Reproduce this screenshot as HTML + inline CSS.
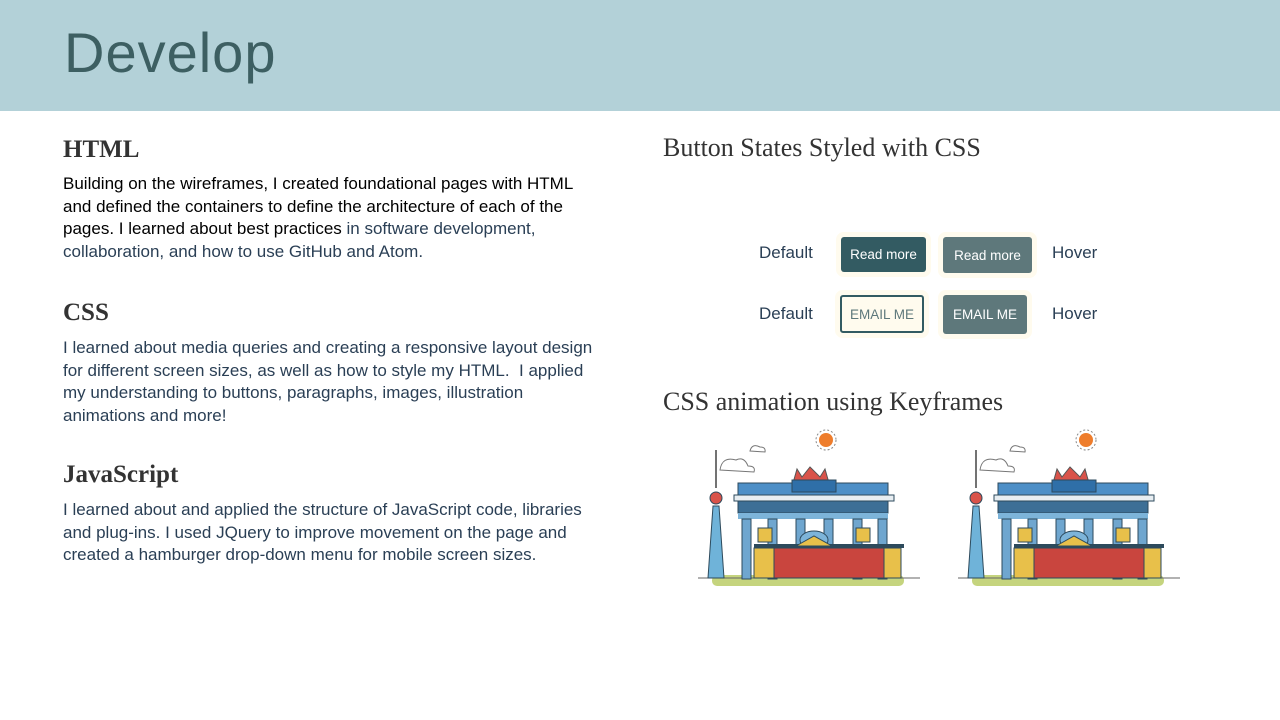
<!DOCTYPE html>
<html><head><meta charset="utf-8"><style>
body{margin:0;width:1280px;height:720px;position:relative;background:#fff;overflow:hidden;font-family:"Liberation Sans",sans-serif}
.abs{position:absolute}
#hdr{left:0;top:0;width:1280px;height:111px;background:#b3d1d8}
#title{left:64px;top:20px;font-size:56px;font-weight:300;color:#3d5f62;letter-spacing:1px}
h2{margin:0;position:absolute;font-family:"Liberation Serif",serif;font-weight:bold;font-size:25px;color:#333}
.p{position:absolute;left:63px;font-size:17px;line-height:22.5px;color:#2a3f55;white-space:nowrap;letter-spacing:0px}
h3{margin:0;position:absolute;font-family:"Liberation Serif",serif;font-weight:normal;font-size:26px;color:#333}
.lbl{position:absolute;font-size:17px;color:#2a3f55}
.btn{position:absolute;box-sizing:border-box;border-radius:3px;font-size:13.5px;display:flex;align-items:center;justify-content:center;box-shadow:0 0 0 5px #fffbee}
</style></head><body>
<div id="hdr" class="abs"></div>
<div id="title" class="abs">Develop</div>

<h2 style="left:63px;top:136px">HTML</h2>
<div class="p" style="top:173px"><span style="color:#000">Building on the wireframes, I created foundational pages with HTML<br>and defined the containers to define the architecture of each of the<br>pages. I learned about best practices </span>in software development,<br>collaboration, and how to use GitHub and Atom.</div>

<h2 style="left:63px;top:299px">CSS</h2>
<div class="p" style="top:337px">I learned about media queries and creating a responsive layout design<br>for different screen sizes, as well as how to style my HTML. &nbsp;I applied<br>my understanding to buttons, paragraphs, images, illustration<br>animations and more!</div>

<h2 style="left:63px;top:461px">JavaScript</h2>
<div class="p" style="top:499px">I learned about and applied the structure of JavaScript code, libraries<br>and plug-ins. I used JQuery to improve movement on the page and<br>created a hamburger drop-down menu for mobile screen sizes.</div>

<h3 style="left:663px;top:133px">Button States Styled with CSS</h3>
<div class="lbl" style="left:759px;top:243px">Default</div>
<div class="btn" style="left:841px;top:237px;width:85px;height:35px;background:#335b62;color:#fff">Read more</div>
<div class="btn" style="left:943px;top:237px;width:89px;height:36px;background:#5e787b;color:#fff">Read more</div>
<div class="lbl" style="left:1052px;top:243px">Hover</div>
<div class="lbl" style="left:759px;top:304px">Default</div>
<div class="btn" style="left:840px;top:295px;width:84px;height:38px;background:#fffbee;border:2px solid #335b62;color:#5e787b">EMAIL ME</div>
<div class="btn" style="left:943px;top:295px;width:84px;height:39px;background:#5e787b;color:#fff">EMAIL ME</div>
<div class="lbl" style="left:1052px;top:304px">Hover</div>

<h3 style="left:663px;top:387px">CSS animation using Keyframes</h3>

<svg class="abs" style="left:0;top:0" width="1280" height="720">
<defs>
<g id="berlin">
  <rect x="14" y="147" width="192" height="11" rx="5" fill="#c5d47e"/>
  <line x1="0" x2="222" y1="150" y2="150" stroke="#666" stroke-width="1"/>
  <line x1="18" y1="22" x2="18" y2="60" stroke="#444" stroke-width="1.5"/>
  <polygon points="15,78 21,78 26,150 10,150" fill="#6fb3d9" stroke="#2d4a5c" stroke-width="1"/>
  <circle cx="18" cy="70" r="6" fill="#d9534a" stroke="#2d4a5c"/>
  <path d="M22,42 q2,-14 16,-10 q8,-4 12,6 q8,0 6,6 z" fill="#fff" stroke="#777"/>
  <path d="M52,23 q2,-8 10,-4 q6,0 5,5 z" fill="#fff" stroke="#777"/>
  <circle cx="128" cy="12" r="7" fill="#ee7d2c"/>
  <circle cx="128" cy="12" r="10" fill="none" stroke="#888" stroke-dasharray="2,2"/>
  <path d="M95,55 l4,-14 l5,8 l8,-10 l10,10 l5,-8 l4,14 z" fill="#d9534a" stroke="#555"/>
  <rect x="40" y="55" width="150" height="12" fill="#4d8fc7" stroke="#2d4a5c"/>
  <rect x="94" y="52" width="44" height="12" fill="#2f6fa8" stroke="#2d4a5c"/>
  <rect x="36" y="67" width="160" height="6" fill="#e8eef2" stroke="#2d4a5c"/>
  <rect x="40" y="73" width="150" height="12" fill="#3d6f96" stroke="#2d4a5c"/>
  <rect x="40" y="85" width="150" height="6" fill="#7db4d9"/>
  <rect x="44" y="91" width="9" height="60" fill="#6fa6cf" stroke="#2d4a5c"/>
  <rect x="70" y="91" width="9" height="60" fill="#6fa6cf" stroke="#2d4a5c"/>
  <rect x="98" y="91" width="9" height="30" fill="#6fa6cf" stroke="#2d4a5c"/>
  <rect x="126" y="91" width="9" height="30" fill="#6fa6cf" stroke="#2d4a5c"/>
  <rect x="155" y="91" width="9" height="60" fill="#6fa6cf" stroke="#2d4a5c"/>
  <rect x="180" y="91" width="9" height="60" fill="#6fa6cf" stroke="#2d4a5c"/>
  <ellipse cx="116" cy="112" rx="14" ry="9" fill="#7db4d9" stroke="#2d4a5c"/>
  <rect x="60" y="100" width="14" height="14" fill="#e8c04a" stroke="#2d4a5c"/>
  <rect x="158" y="100" width="14" height="14" fill="#e8c04a" stroke="#2d4a5c"/>
  <rect x="56" y="116" width="150" height="4" fill="#2d4a5c"/>
  <rect x="56" y="120" width="20" height="30" fill="#e8c04a" stroke="#2d4a5c"/>
  <rect x="185" y="120" width="18" height="30" fill="#e8c04a" stroke="#2d4a5c"/>
  <rect x="76" y="120" width="110" height="30" fill="#c9453e" stroke="#2d4a5c"/>
  <polygon points="98,118 116,108 134,118" fill="#e8c04a" stroke="#2d4a5c"/>
</g>
</defs>
<use href="#berlin" x="698" y="428"/>
<use href="#berlin" x="958" y="428"/>
</svg>
</body></html>
